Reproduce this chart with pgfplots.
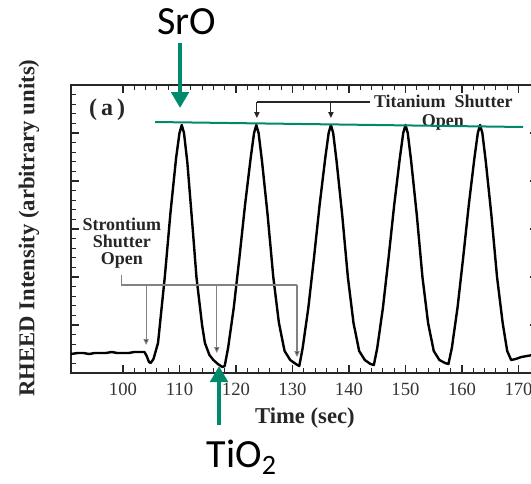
\documentclass[border=0pt]{standalone}
\usepackage{fontspec}
\setmainfont{Liberation Serif}
\newfontfamily\calibri{Carlito}
\usepackage{pgfplots}
\pgfplotsset{compat=1.18}
\usetikzlibrary{arrows.meta}
\definecolor{srgreen}{RGB}{0,138,108}
\definecolor{brgray}{RGB}{130,130,130}
\begin{document}
\begin{tikzpicture}
\path[use as bounding box] (-53.25pt,-82.5pt) rectangle (345pt,279.75pt);
\clip (-53.25pt,-82.5pt) rectangle (345pt,279.75pt);
\begin{axis}[
  at={(0pt,0pt)}, anchor=south west,
  scale only axis, width=350.25pt, height=216pt,
  xmin=90.8, xmax=173.45, ymin=0, ymax=288,
  clip=false,
  axis line style={line width=0.9pt, black!85},
  major tick style={black!85, line width=0.9pt},
  minor tick style={black!85, line width=0.8pt},
  major tick length=6pt, minor tick length=3.5pt,
  tick align=inside,
  xtick={100,110,...,170}, minor x tick num=4,
  ytick={0,48,...,288}, minor y tick num=4,
  yticklabels={},
  /pgf/number format/assume math mode=true,
  xticklabel style={font=\fontsize{14}{14}\selectfont, inner sep=0pt, yshift=-7pt, text=black!80},
]
\addplot[black, line width=1.8pt, line join=round] coordinates {
(90.8,19) (92,20) (93,20) (94,19) (95,20) (96,20) (97,20) (98,21) (99,20) (100,20)
(101,20) (102,21) (103,21) (103.8,21) (104.2,17) (104.6,11) (104.9,10) (105.4,14)
(106.2,30) (107.4,96) (108.4,160) (109.4,215) (110.0,240) (110.4,248) (110.8,240)
(111.4,210) (112.4,140) (113.0,96) (114.0,48) (114.5,30) (115.3,18) (116.0,13)
(116.8,9) (117.6,6)
(118.0,7) (118.6,25) (119.6,65) (120.6,115) (121.6,168) (122.6,215) (123.2,240)
(123.6,248) (124.0,240) (124.6,212) (125.6,158) (126.6,96) (127.6,50) (128.6,22)
(129.6,13) (130.6,9)
(131.2,7) (131.8,25) (132.8,65) (133.8,115) (134.8,168) (135.8,215) (136.4,240)
(136.8,248) (137.2,240) (137.8,212) (138.8,158) (139.8,96) (140.8,50) (141.8,22)
(142.8,13) (143.8,9)
(144.4,8) (145.0,25) (146.0,65) (147.0,115) (148.0,168) (149.0,215) (149.6,240)
(150.0,248) (150.4,240) (151.0,212) (152.0,158) (153.0,96) (154.0,50) (155.0,22)
(156.0,13) (157.0,10)
(157.6,9) (158.2,25) (159.2,65) (160.2,115) (161.2,168) (162.2,215) (162.8,240)
(163.2,248) (163.6,240) (164.2,212) (165.2,158) (166.2,96) (167.2,50) (168.0,22)
(168.7,13) (169.5,14) (170.5,16) (171.5,17) (172.5,18)
};
% panel label
\node[font=\bfseries\fontsize{18}{18}\selectfont, text=black!85] at (axis cs:97.2,263) {(\,a\,)};
% Titanium shutter annotation
\draw[black!85, line width=0.8pt] (axis cs:123.7,271) -- (axis cs:143.7,271);
\draw[black!85, line width=0.8pt, -{Triangle[length=4.5pt,width=4pt]}] (axis cs:123.7,271) -- (axis cs:123.7,255);
\draw[black!85, line width=0.8pt, -{Triangle[length=4.5pt,width=4pt]}] (axis cs:136.8,271) -- (axis cs:136.8,255);
\node[font=\bfseries\fontsize{13.5}{13.5}\selectfont, text=black!85, inner sep=0pt] at (axis cs:156.7,272) {Titanium\ \ Shutter};
\node[font=\bfseries\fontsize{13.5}{13.5}\selectfont, text=black!85, inner sep=0pt] at (axis cs:156.6,251) {Open};
% Strontium shutter annotation
\node[font=\bfseries\fontsize{13.5}{12.6}\selectfont, text=black!85, align=center, inner sep=0pt] at (axis cs:99.8,130) {Strontium\\Shutter\\Open};
\draw[brgray, line width=0.8pt] (axis cs:99.8,98) -- (axis cs:99.8,88) -- (axis cs:130.8,88);
\draw[brgray, line width=0.8pt, -{Triangle[length=4.5pt,width=4pt, fill=black!85]}] (axis cs:104.1,88) -- (axis cs:104.1,28);
\draw[brgray, line width=0.8pt, -{Triangle[length=4.5pt,width=4pt, fill=black!85]}] (axis cs:116.6,88) -- (axis cs:116.6,20);
\draw[brgray, line width=0.8pt, -{Triangle[length=4.5pt,width=4pt, fill=black!85]}] (axis cs:130.8,88) -- (axis cs:130.8,16);
% axis labels
\node[font=\bfseries\fontsize{17}{17}\selectfont, text=black!85] at (axis cs:132.2,-45) {Time (sec)};
\node[font=\bfseries\fontsize{17}{17}\selectfont, text=black!85, rotate=90] at (axis cs:83.36,145) {RHEED Intensity (arbitrary units)};
% green overlay
\draw[srgreen, line width=1.5pt] (axis cs:105.7,251) -- (axis cs:170.8,246);
\draw[srgreen, line width=3.6pt, -{Triangle[length=12pt,width=13pt]}] (axis cs:110.1,330) -- (axis cs:110.1,265);
\draw[srgreen, line width=3.6pt, -{Triangle[length=12pt,width=13pt]}] (axis cs:117.0,-52) -- (axis cs:117.0,7);
\node[font=\calibri\fontsize{30}{30}\selectfont] at (axis cs:111.3,351) {SrO};
\node[font=\calibri\fontsize{30}{30}\selectfont] at (axis cs:121.0,-84) {TiO\textsubscript{2}};
\end{axis}
\end{tikzpicture}
\end{document}
